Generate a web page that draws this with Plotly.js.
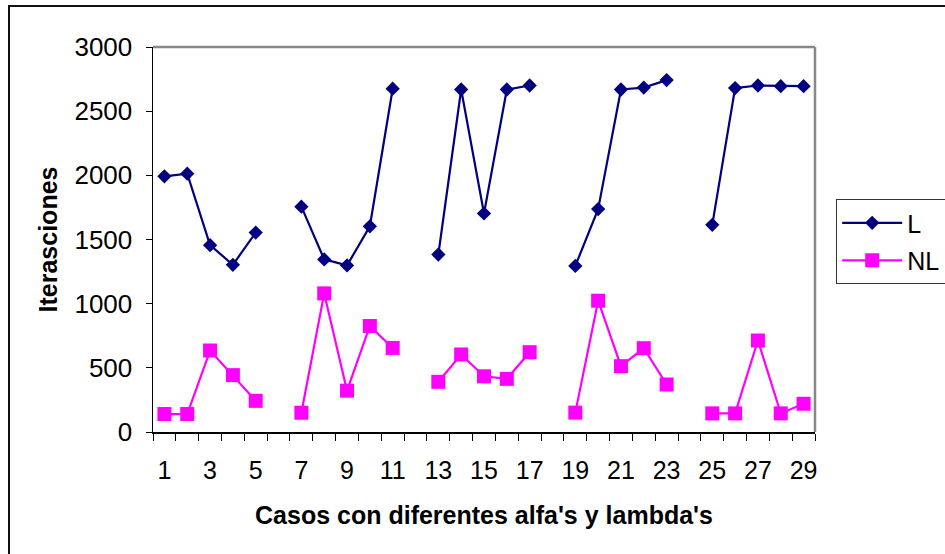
<!DOCTYPE html>
<html>
<head>
<meta charset="utf-8">
<script src="https://cdn.plot.ly/plotly-3.0.1.min.js"></script>
<style>
  html, body { margin: 0; padding: 0; background: #fff; }
  #chart { position: absolute; left: 0; top: 0; width: 945px; height: 554px; }
  #bl { position: absolute; left: 8px; top: 5px; width: 2px; height: 549px; background: #111; }
  #bt { position: absolute; left: 8px; top: 5px; width: 937px; height: 2px; background: #111; }
</style>
</head>
<body>
<div id="chart"></div>
<div id="bl"></div>
<div id="bt"></div>
<script>
// Cases 1..29 (6, 12, 18, 24 have no value)
const casos = [1,2,3,4,5,6,7,8,9,10,11,12,13,14,15,16,17,18,19,20,21,22,23,24,25,26,27,28,29];
const serieL = [1992,2013,1456,1303,1554,null,1756,1345,1298,1603,2675,null,1383,2669,1703,2669,2700,null,1294,1737,2669,2684,2742,null,1614,2680,2700,2695,2695];
const serieNL = [140,140,635,443,243,null,150,1080,322,826,655,null,391,604,434,414,622,null,151,1023,513,653,370,null,145,145,713,145,220];
const nombres = ['L', 'NL'];
const tituloX = "Casos con diferentes alfa's y lambda's";
const tituloY = 'Iterasciones';

const font = 'Arial, "Liberation Sans", sans-serif';

const traces = [
  {
    x: casos, y: serieL, name: nombres[0], type: 'scatter', mode: 'lines+markers',
    connectgaps: false, legendgroup: 'a',
    line: { color: '#000080', width: 2.2 },
    marker: { symbol: 'diamond', size: 11, color: '#000080' }
  },
  {
    x: casos, y: serieNL, name: nombres[1], type: 'scatter', mode: 'lines+markers',
    connectgaps: false, legendgroup: 'b',
    line: { color: '#FF00FF', width: 2.2 },
    marker: { symbol: 'square', size: 14, color: '#FF00FF' }
  }
];

const layout = {
  width: 945, height: 554,
  margin: { l: 153, r: 130, t: 47, b: 122, autoexpand: false },
  paper_bgcolor: '#ffffff', plot_bgcolor: '#ffffff',
  font: { family: font, color: '#000', size: 24 },
  showlegend: true,
  legend: {
    x: 1.032, xanchor: 'left', y: 0.605, yanchor: 'top',
    bordercolor: '#333', borderwidth: 1, bgcolor: '#fff',
    font: { family: font, size: 25, color: '#000' },
    tracegroupgap: 2, itemwidth: 60, entrywidth: 130, entrywidthmode: 'pixels'
  },
  xaxis: {
    type: 'linear', range: [0.5, 29.5], fixedrange: true,
    tickmode: 'linear', tick0: 1, dtick: 2,
    ticks: '', ticklabelstandoff: 15,
    tickfont: { family: font, size: 25, color: '#000' },
    showgrid: false, zeroline: false,
    showline: true, linecolor: '#000', linewidth: 1.5,
    minor: { tickmode: 'linear', tick0: 0.5, dtick: 1, ticks: 'outside', ticklen: 7, tickcolor: '#000', tickwidth: 1, showgrid: false },
    title: { text: tituloX, font: { family: font, size: 25, color: '#000', weight: 'bold' }, standoff: 24 }
  },
  yaxis: {
    range: [0, 3000], fixedrange: true,
    tickmode: 'linear', tick0: 0, dtick: 500,
    ticks: 'outside', ticklen: 6, tickcolor: '#000', tickwidth: 1,
    ticklabelstandoff: 8,
    tickfont: { family: font, size: 26, color: '#000' },
    showgrid: false, zeroline: false,
    showline: true, linecolor: '#000', linewidth: 1.5,
    title: { text: tituloY, font: { family: font, size: 25, color: '#000', weight: 'bold' }, standoff: 9 }
  },
  shapes: [
    { type: 'line', xref: 'paper', yref: 'paper', x0: 0, x1: 1, y0: 1, y1: 1, line: { color: '#888', width: 2.5 } },
    { type: 'line', xref: 'paper', yref: 'paper', x0: 1, x1: 1, y0: 0, y1: 1, line: { color: '#888', width: 2.5 } }
  ]
};

Plotly.newPlot('chart', traces, layout, { staticPlot: true, displayModeBar: false });
</script>
</body>
</html>
